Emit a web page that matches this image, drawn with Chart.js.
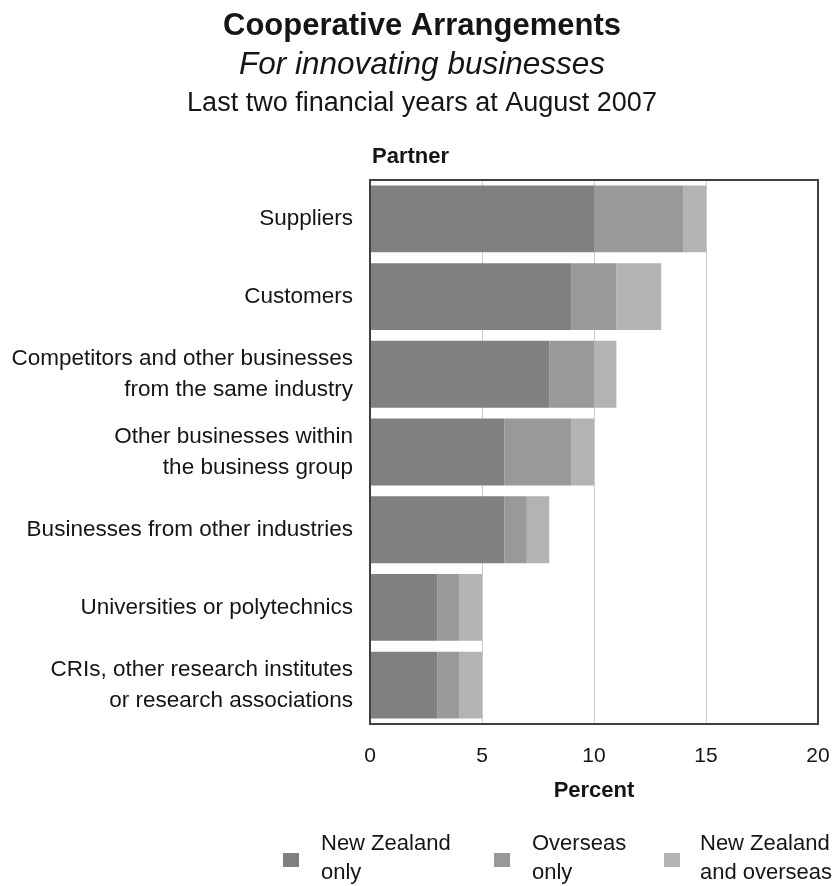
<!DOCTYPE html>
<html>
<head>
<meta charset="utf-8">
<script src="https://cdn.jsdelivr.net/npm/chart.js@4/dist/chart.umd.min.js"></script>
<style>
  html, body { margin: 0; padding: 0; background: #ffffff; }
  #wrap { position: relative; width: 836px; height: 886px; }
</style>
</head>
<body>
<div id="wrap"><canvas id="chart" width="836" height="886"></canvas></div>
<script>
// Partner types (top to bottom)
const partners = [
  'Suppliers',
  'Customers',
  ['Competitors and other businesses', 'from the same industry'],
  ['Other businesses within', 'the business group'],
  'Businesses from other industries',
  'Universities or polytechnics',
  ['CRIs, other research institutes', 'or research associations']
];

// Percent of innovating businesses, by location of partner
const nzOnly        = [10, 9, 8, 6, 6, 3, 3];
const overseasOnly  = [4, 2, 2, 3, 1, 1, 1];
const nzAndOverseas = [1, 2, 1, 1, 1, 1, 1];

const seriesNames = [['New Zealand', 'only'], ['Overseas', 'only'], ['New Zealand', 'and overseas']];
const xTicks = [0, 5, 10, 15, 20];

const FONT = '"Liberation Sans", Arial, Helvetica, sans-serif';
const TEXT = '#151515';

// Headings, "Partner" label, plot frame and legend
const decorations = {
  id: 'decorations',
  afterDatasetsDraw(chart) {
    const { ctx, chartArea: a } = chart;
    ctx.save();
    ctx.strokeStyle = '#404040';
    ctx.lineWidth = 2;
    ctx.strokeRect(a.left, a.top, a.right - a.left, a.bottom - a.top);
    ctx.restore();
  },
  afterDraw(chart) {
    const { ctx, chartArea: a } = chart;
    ctx.save();
    ctx.fillStyle = TEXT;
    ctx.textAlign = 'center';
    ctx.textBaseline = 'middle';
    const cx = 422;
    ctx.font = 'bold 31px ' + FONT;
    ctx.fillText('Cooperative Arrangements', cx, 26);
    ctx.font = 'italic 31.5px ' + FONT;
    ctx.fillText('For innovating businesses', cx, 65);
    ctx.font = '27px ' + FONT;
    ctx.fillText('Last two financial years at August 2007', cx, 104);

    ctx.textAlign = 'left';
    ctx.font = 'bold 22px ' + FONT;
    ctx.fillText('Partner', a.left + 2, 157);

    // legend
    const items = chart.data.datasets;
    const boxX = [283, 494, 664];
    const textX = [321, 532, 700];
    ctx.font = '22px ' + FONT;
    items.forEach((ds, i) => {
      ctx.fillStyle = ds.backgroundColor;
      ctx.fillRect(boxX[i], 853, 16, 14);
      ctx.fillStyle = TEXT;
      const lines = seriesNames[i];
      ctx.fillText(lines[0], textX[i], 844);
      ctx.fillText(lines[1], textX[i], 873);
    });
    ctx.restore();
  }
};

const mkDataset = (label, data, color) => ({
  label, data,
  backgroundColor: color,
  borderWidth: 0,
  barPercentage: 0.86,
  categoryPercentage: 1.0
});

new Chart(document.getElementById('chart'), {
  type: 'bar',
  data: {
    labels: partners,
    datasets: [
      mkDataset('New Zealand only', nzOnly, '#808080'),
      mkDataset('Overseas only', overseasOnly, '#999999'),
      mkDataset('New Zealand and overseas', nzAndOverseas, '#b3b3b3')
    ]
  },
  options: {
    indexAxis: 'y',
    responsive: false,
    animation: false,
    layout: { padding: { top: 180, right: 18, bottom: 82, left: 0 } },
    plugins: {
      legend: { display: false },
      tooltip: { enabled: false },
      title: { display: false }
    },
    scales: {
      x: {
        stacked: true,
        min: 0,
        max: 20,
        afterBuildTicks(scale) { scale.ticks = xTicks.map(v => ({ value: v })); },
        afterFit(scale) {
          scale.height = 80;
          scale.paddingLeft = 0;
          scale.paddingRight = 0;
        },
        grid: { color: '#cccccc', lineWidth: 1, drawTicks: false },
        border: { display: false },
        ticks: {
          padding: 20,
          color: TEXT,
          font: { family: FONT, size: 21 },
          maxRotation: 0
        },
        title: {
          display: true,
          text: 'Percent',
          color: TEXT,
          font: { family: FONT, size: 22, weight: 'bold' },
          padding: { top: 0, bottom: 0 }
        }
      },
      y: {
        stacked: true,
        afterFit(scale) { scale.width = 370; },
        grid: { display: false, drawTicks: false },
        border: { display: false },
        ticks: {
          padding: 17,
          color: TEXT,
          font: { family: FONT, size: 22.5, lineHeight: 1.38 }
        }
      }
    }
  },
  plugins: [decorations]
});
</script>
</body>
</html>
